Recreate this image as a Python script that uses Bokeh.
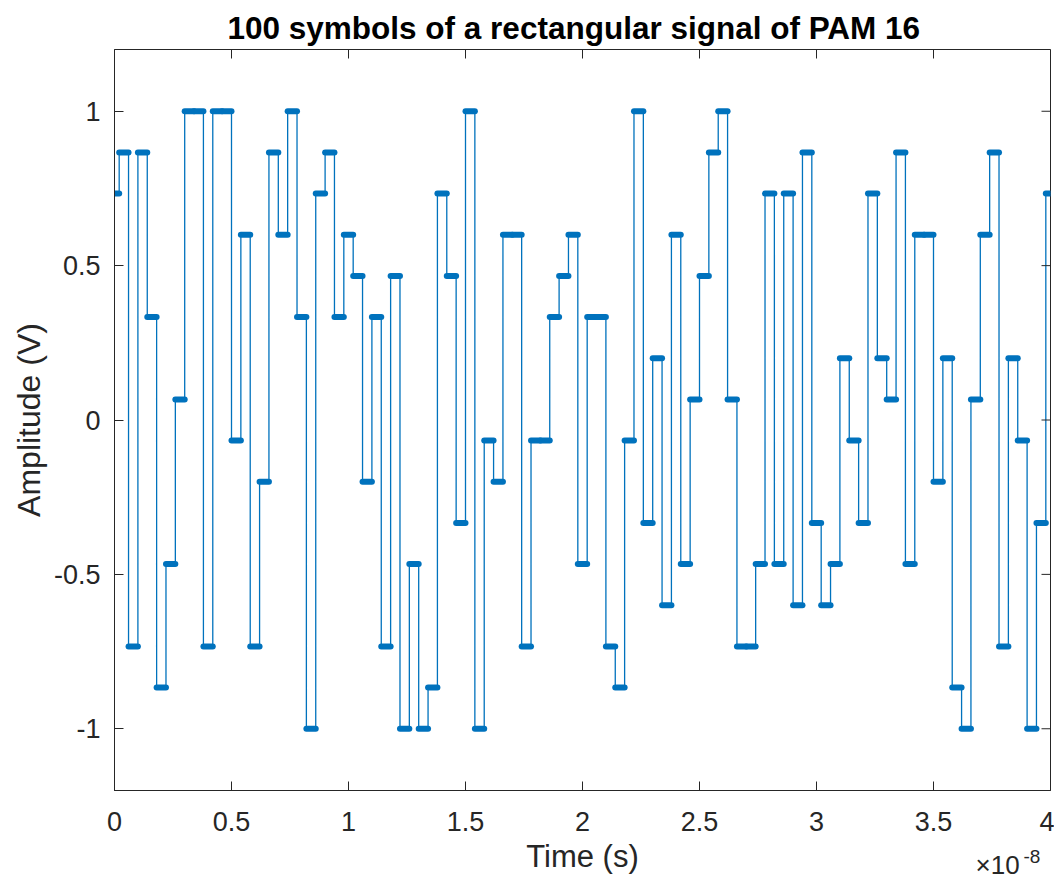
import numpy as np
from bokeh.plotting import figure
from bokeh.models import Range1d, FixedTicker, ColumnDataSource
from bokeh.core.properties import value
from bokeh.embed import file_html
from bokeh.resources import INLINE

# ---------------- data ----------------
title_text = "100 symbols of a rectangular signal of PAM 16"
x_label = "Time (s)"
y_label = "Amplitude (V)"
x_tick_values = [0, 0.5, 1, 1.5, 2, 2.5, 3, 3.5, 4]
x_tick_labels = ["0", "0.5", "1", "1.5", "2", "2.5", "3", "3.5", "4"]
y_tick_values = [-1, -0.5, 0, 0.5, 1]
y_tick_labels = ["-1", "-0.5", "0", "0.5", "1"]
y_limits = [-1.2, 1.2]
x_multiplier = "\u00d710"
x_exponent = "-8"
symbol_period = 0.04          # in units of 1e-8 s  (4e-10 s)
amplitude = [
    0.7333, 0.8667, -0.7333, 0.8667, 0.3333, -0.8667, -0.4667, 0.0667, 1.0, 1.0,
    -0.7333, 1.0, 1.0, -0.0667, 0.6, -0.7333, -0.2, 0.8667, 0.6, 1.0,
    0.3333, -1.0, 0.7333, 0.8667, 0.3333, 0.6, 0.4667, -0.2, 0.3333, -0.7333,
    0.4667, -1.0, -0.4667, -1.0, -0.8667, 0.7333, 0.4667, -0.3333, 1.0, -1.0,
    -0.0667, -0.2, 0.6, 0.6, -0.7333, -0.0667, -0.0667, 0.3333, 0.4667, 0.6,
    -0.4667, 0.3333, 0.3333, -0.7333, -0.8667, -0.0667, 1.0, -0.3333, 0.2, -0.6,
    0.6, -0.4667, 0.0667, 0.4667, 0.8667, 1.0, 0.0667, -0.7333, -0.7333, -0.4667,
    0.7333, -0.4667, 0.7333, -0.6, 0.8667, -0.3333, -0.6, -0.4667, 0.2, -0.0667,
    -0.3333, 0.7333, 0.2, 0.0667, 0.8667, -0.4667, 0.6, 0.6, -0.2, 0.2,
    -0.8667, -1.0, 0.0667, 0.6, 0.8667, -0.7333, 0.2, -0.0667, -1.0, -0.3333, 0.7333,
]

# ---------------- derived ----------------
amp = np.array(amplitude)
t = np.arange(len(amp)) * symbol_period
x_min, x_max = x_tick_values[0], x_tick_values[-1]
y_min, y_max = y_limits
x0 = np.clip(t - symbol_period / 2, x_min, x_max)
x1 = np.clip(t + symbol_period / 2, x_min, x_max)
src = ColumnDataSource(dict(t=t, y=amp, x0=x0, x1=x1))

FONT = "Liberation Sans"
AX = "#262626"
BLUE = "#0072BD"

p = figure(width=1054, height=879,
           x_range=Range1d(x_min, x_max), y_range=Range1d(y_min, y_max),
           output_backend="svg", toolbar_location=None,
           min_border_left=114, min_border_right=4,
           min_border_top=49, min_border_bottom=89,
           background_fill_color="white", border_fill_color="white",
           outline_line_color=AX, outline_line_width=1)
p.xgrid.visible = False
p.ygrid.visible = False

# signal
p.step("t", "y", source=src, mode="center", line_color=BLUE, line_width=1.3)
p.segment(x0="x0", y0="y", x1="x1", y1="y", source=src,
          line_color=BLUE, line_width=6, line_cap="round")

# inward ticks on the top and right edges of the box (half clipped by frame)
p.scatter(x=x_tick_values, y=[y_max] * len(x_tick_values), marker="dash",
          size=18, angle=np.pi / 2, line_color=AX, line_width=1)
p.scatter(x=[x_max] * len(y_tick_values), y=y_tick_values, marker="dash",
          size=18, angle=0, line_color=AX, line_width=1)

# axes
xax = p.below[0]
yax = p.left[0]
xax.ticker = FixedTicker(ticks=x_tick_values)
yax.ticker = FixedTicker(ticks=y_tick_values)
xax.major_label_overrides = {v: s for v, s in zip(x_tick_values, x_tick_labels)}
yax.major_label_overrides = {v: s for v, s in zip(y_tick_values, y_tick_labels)}
xax.axis_label = x_label
yax.axis_label = y_label

for ax in (xax, yax):
    ax.axis_line_color = AX
    ax.major_tick_line_color = AX
    ax.major_tick_in = 9
    ax.major_tick_out = 0
    ax.minor_tick_line_color = None
    ax.major_label_text_font = FONT
    ax.major_label_text_font_size = "27px"
    ax.major_label_text_color = AX
    ax.axis_label_text_font = FONT
    ax.axis_label_text_font_style = "normal"
    ax.axis_label_text_color = AX
xax.axis_label_text_font_size = "31px"
yax.axis_label_text_font_size = "32px"
xax.major_label_standoff = 21
xax.axis_label_standoff = 5
yax.major_label_standoff = 14
yax.axis_label_standoff = 4

p.title.text = title_text
p.title.align = "left"
p.title.offset = 113
p.title.text_font = FONT
p.title.text_font_size = "31.5px"
p.title.text_font_style = "bold"
p.title.text_color = "#000000"
p.title.standoff = 8

# x10^-8 multiplier of the time axis (drawn on the overlay level, outside the box)
p.text(x=[x_max], y=[y_min], text=[x_multiplier], x_offset=-75, y_offset=74,
       text_align="left", text_baseline="middle",
       text_font=value(FONT), text_font_size="26px", text_color=AX, level="overlay")
p.text(x=[x_max], y=[y_min], text=[x_exponent], x_offset=-27, y_offset=66,
       text_align="left", text_baseline="middle",
       text_font=value(FONT), text_font_size="19px", text_color=AX, level="overlay")

open("out.html", "w").write(file_html(p, INLINE))
